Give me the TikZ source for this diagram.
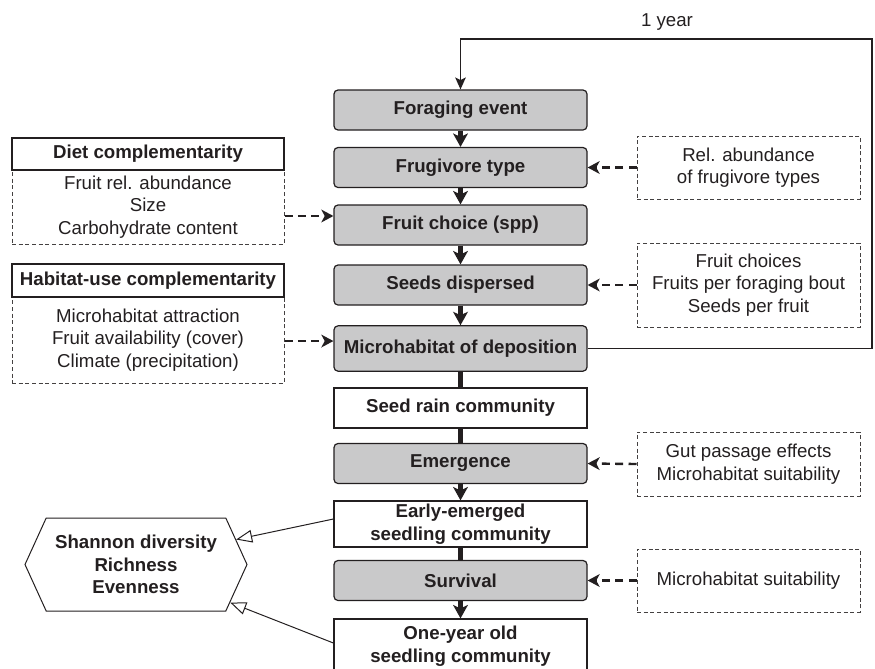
\documentclass[tikz,border=0pt]{standalone}
\usepackage{fontspec}
\setmainfont{Liberation Sans}
\usepackage{xcolor}
\usetikzlibrary{arrows.meta,shapes.symbols}
\definecolor{ink}{HTML}{231F20}
\definecolor{boxgray}{HTML}{C9C9CA}
\tikzset{
  txt/.style={text=ink, font=\fontsize{14}{16.9}\selectfont},
  bold/.style={text=ink, font=\fontsize{14}{16.9}\selectfont\bfseries},
  graybox/.style={bold, draw=ink, fill=boxgray, rounded corners=3pt, line width=0.9pt,
    minimum width=189.75pt, minimum height=30pt, inner sep=1pt, align=center},
  whitebox/.style={bold, draw=ink, fill=white, line width=0.9pt,
    minimum width=189.75pt, minimum height=30pt, inner sep=1pt, align=center},
  dashbox/.style={txt, draw=ink!85, dash pattern=on 3pt off 2pt, line width=0.75pt,
    minimum width=167.25pt, inner sep=1pt, align=center},
  headbox/.style={bold, draw=ink, fill=white, line width=0.8pt, minimum width=204pt, inner sep=1pt},
  bodybox/.style={txt, draw=ink!85, dash pattern=on 3pt off 2pt, line width=0.75pt,
    minimum width=204pt, inner sep=1pt, align=center},
  hexbox/.style={bold, draw=ink, line width=0.75pt, shape=signal, signal to=west and east,
    signal pointer angle=131, minimum width=166.5pt, minimum height=69.75pt, inner sep=0pt, align=center},
  mainarrow/.style={draw=ink, line width=3.2pt, -{Stealth[length=10pt,width=11pt,inset=2.5pt]}},
  mainline/.style={draw=ink, line width=3.2pt},
  dasharrow/.style={draw=ink, line width=1.8pt, dash pattern=on 6pt off 4pt,
    -{Stealth[length=9pt,width=9.5pt,inset=2.5pt]}},
  openarrow/.style={draw=ink, line width=0.75pt, -{Triangle[open,length=12pt,width=9.5pt]}},
  loopline/.style={draw=ink, line width=0.9pt, -{Stealth[length=9pt,width=8pt,inset=2pt]}},
}

\begin{document}
\begin{tikzpicture}[x=0.75pt,y=-0.75pt]
\useasboundingbox (0,0) rectangle (875,668);

% main chain
\node[graybox] (forage) at (460.5,110) {Foraging event};
\node[graybox] (frugi) at (460.5,167.5) {Frugivore type};
\node[graybox] (fruit) at (460.5,225) {Fruit choice (spp)};
\node[graybox] (seeds) at (460.5,285) {Seeds dispersed};
\node[graybox, minimum height=34pt] (micro) at (460.5,348.5) {Microhabitat of deposition};
\node[whitebox] (rain) at (460.5,408) {Seed rain community};
\node[graybox] (emerg) at (460.5,463.5) {Emergence};
\node[whitebox, minimum height=34.5pt] (early) at (460.5,524) {Early-emerged\\seedling community};
\node[graybox] (surv) at (460.5,580.5) {Survival};
\node[whitebox, minimum height=40.5pt] (oneyr) at (460.5,646) {One-year old\\seedling community};

\draw[mainarrow] (forage) -- (frugi);
\draw[mainarrow] (frugi) -- (fruit);
\draw[mainarrow] (fruit) -- (seeds);
\draw[mainarrow] (seeds) -- (micro);
\draw[mainline] (micro) -- (rain);
\draw[mainline] (rain) -- (emerg);
\draw[mainarrow] (emerg) -- (early);
\draw[mainline] (early) -- (surv);
\draw[mainarrow] (surv) -- (oneyr);

% yearly loop back to the start
\coordinate (turn) at (872,39);
\draw[loopline] (micro.east) -| (turn) -| (forage.north);
\node[txt] (year) at (667,22) {1 year};

% drivers on the right
\node[dashbox, minimum height=47.25pt] (relab) at (748.5,167.5) {Rel. abundance\\of frugivore types};
\node[dashbox, minimum height=63pt] (choices) at (748.5,285) {Fruit choices\\Fruits per foraging bout\\Seeds per fruit};
\node[dashbox, minimum height=48pt] (gut) at (748.5,464) {Gut passage effects\\Microhabitat suitability};
\node[dashbox, minimum height=47.25pt] (suit) at (748.5,580.5) {Microhabitat suitability};

\draw[dasharrow] (relab.west) -- (frugi.east);
\draw[dasharrow] (choices.west) -- (seeds.east);
\draw[dasharrow] (gut.west) -- (emerg.east);
\draw[dasharrow] (suit.west) -- (surv.east);

% complementarity boxes on the left
\node[bodybox, minimum height=55.5pt] (dietbody) at (148,207) {Fruit rel. abundance\\Size\\Carbohydrate content};
\node[headbox, minimum height=24pt] (diethead) at (148,154) {Diet complementarity};
\node[bodybox, minimum height=64.5pt] (habbody) at (148,340) {Microhabitat attraction\\Fruit availability (cover)\\Climate (precipitation)};
\node[headbox, minimum height=24.75pt] (habhead) at (148,280.5) {Habitat-use complementarity};

\draw[dasharrow] ([yshift=6.75pt]fruit.west -| dietbody.east) -- ([yshift=6.75pt]fruit.west);
\draw[dasharrow] ([yshift=5.6pt]micro.west -| habbody.east) -- ([yshift=5.6pt]micro.west);

% diversity metrics
\node[hexbox] (hex) at (136,564.5) {Shannon diversity\\Richness\\Evenness};
\draw[openarrow] ([yshift=3.75pt]early.west) -- (hex.14);
\draw[openarrow] ([yshift=2.25pt]oneyr.west) -- (hex.-22);
\end{tikzpicture}
\end{document}
